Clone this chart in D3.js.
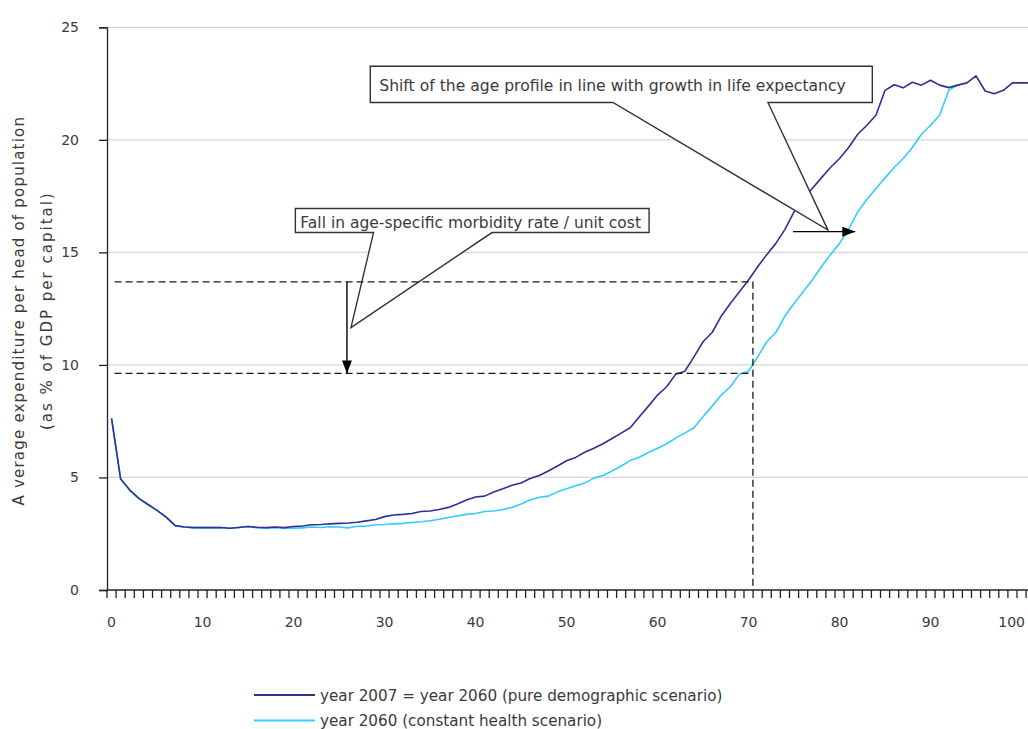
<!DOCTYPE html>
<html>
<head>
<meta charset="utf-8">
<script src="https://cdn.jsdelivr.net/npm/d3@7"></script>
<style>
  body { margin: 0; background: #fff; }
  svg { display: block; }
  text { font-family: "DejaVu Sans", "Liberation Sans", sans-serif; fill: #3a3a3a; }
</style>
</head>
<body>
<svg id="chart" width="1028" height="729"></svg>
<script>
// Age groups 0..101 on the category axis
const ages = d3.range(0, 102);

// Expenditure per head (% of GDP per capita), year 2007 = year 2060 profile
const pureDemographic = [
  7.62, 4.93, 4.44, 4.07, 3.80, 3.54, 3.24, 2.86, 2.80, 2.77,
  2.77, 2.77, 2.78, 2.74, 2.78, 2.82, 2.79, 2.77, 2.80, 2.77,
  2.82, 2.84, 2.90, 2.91, 2.94, 2.96, 2.98, 3.01, 3.07, 3.13,
  3.26, 3.33, 3.36, 3.40, 3.49, 3.51, 3.58, 3.67, 3.82, 4.00,
  4.13, 4.17, 4.35, 4.50, 4.65, 4.75, 4.95, 5.09, 5.29, 5.51,
  5.74, 5.89, 6.12, 6.30, 6.50, 6.73, 6.97, 7.21, 7.70, 8.17,
  8.66, 9.03, 9.59, 9.72, 10.36, 11.03, 11.44, 12.17, 12.73, 13.25,
  13.77, 14.36, 14.90, 15.40, 16.02, 16.80, 17.35, 17.84, 18.31, 18.77,
  19.17, 19.66, 20.25, 20.65, 21.09, 22.20, 22.45, 22.31, 22.56, 22.43,
  22.65, 22.43, 22.32, 22.43, 22.53, 22.84, 22.17, 22.05, 22.20, 22.53,
  22.53, 22.53
];

// Year 2060 profile under the constant health scenario (ages 0..93)
const constantHealth = [
  7.62, 4.93, 4.44, 4.07, 3.80, 3.54, 3.24, 2.86, 2.80, 2.77,
  2.77, 2.77, 2.78, 2.74, 2.78, 2.82, 2.76, 2.75, 2.77, 2.74,
  2.75, 2.76, 2.80, 2.78, 2.81, 2.80, 2.76, 2.83, 2.84, 2.90,
  2.91, 2.94, 2.96, 3.00, 3.03, 3.08, 3.14, 3.22, 3.29, 3.36,
  3.40, 3.49, 3.51, 3.58, 3.67, 3.82, 4.00, 4.12, 4.17, 4.36,
  4.50, 4.63, 4.75, 4.97, 5.09, 5.29, 5.51, 5.75, 5.90, 6.11,
  6.30, 6.50, 6.75, 6.97, 7.21, 7.70, 8.17, 8.66, 9.03, 9.59,
  9.72, 10.36, 11.03, 11.44, 12.17, 12.73, 13.25, 13.77, 14.36, 14.90,
  15.40, 16.02, 16.80, 17.35, 17.84, 18.31, 18.77, 19.17, 19.66, 20.25,
  20.65, 21.09, 22.20, 22.45
];

const yTicks = [0, 5, 10, 15, 20, 25];
const xTickLabels = [0, 10, 20, 30, 40, 50, 60, 70, 80, 90, 100];
const seriesNames = [
  "year 2007 = year 2060 (pure demographic scenario)",
  "year 2060 (constant health scenario)"
];
const yTitleLines = [
  "A verage expenditure per head of population",
  "(as % of GDP per capital)"
];
const calloutTexts = [
  "Fall in age-specific morbidity rate / unit cost",
  "Shift of the age profile in line with growth in life expectancy"
];

// ---- layout ----
const svg = d3.select("#chart");
const W = 1028, H = 729;
const plot = { left: 107, top: 27.3, bottom: 590, step: 9.1 };

const x = d3.scaleBand()
  .domain(ages)
  .range([plot.left, plot.left + plot.step * ages.length])
  .paddingInner(0).paddingOuter(0);
const xc = a => x(a) + x.bandwidth() / 2;
// continuous age position (for annotation shapes placed between categories)
const xa = d3.scaleLinear().domain([0, 1]).range([xc(0), xc(1)]);

const y = d3.scaleLinear().domain([0, 25]).range([plot.bottom, plot.top]);

const colors = ["#2E3192", "#33CCFF"];

// gridlines
svg.append("g")
  .selectAll("line")
  .data(yTicks.filter(v => v > 0))
  .join("line")
  .attr("x1", plot.left).attr("x2", W)
  .attr("y1", d => y(d)).attr("y2", d => y(d))
  .attr("stroke", "#d6d6d6").attr("stroke-width", 1.3);

// y axis
const yAxis = svg.append("g")
  .attr("transform", `translate(${plot.left},0)`)
  .call(d3.axisLeft(y).tickValues(yTicks).tickSize(8).tickPadding(20).tickFormat(d3.format("d")));
yAxis.select(".domain").attr("stroke", "#222").attr("stroke-width", 1.3);
yAxis.selectAll(".tick line").attr("stroke", "#222").attr("stroke-width", 1.3);
yAxis.selectAll(".tick text").style("font-size", "14px").style("font-family", "DejaVu Sans").attr("fill", "#3a3a3a");

// x axis: labels centred on categories, ticks at category boundaries
const xAxis = svg.append("g")
  .attr("transform", `translate(0,${plot.bottom})`)
  .call(d3.axisBottom(x).tickValues(xTickLabels).tickSize(0).tickPadding(27));
xAxis.select(".domain").remove();
xAxis.selectAll(".tick text").style("font-size", "14px").style("font-family", "DejaVu Sans").attr("fill", "#3a3a3a");
// keep the last label inside the drawing
xAxis.selectAll(".tick text").filter(d => d === 100)
  .attr("text-anchor", "end").attr("x", W - 3 - (xc(100)));

svg.append("line")
  .attr("x1", plot.left).attr("x2", W)
  .attr("y1", plot.bottom).attr("y2", plot.bottom)
  .attr("stroke", "#222").attr("stroke-width", 1.3);
svg.append("g")
  .selectAll("line")
  .data(ages)
  .join("line")
  .attr("x1", d => x(d)).attr("x2", d => x(d))
  .attr("y1", plot.bottom).attr("y2", plot.bottom + 8)
  .attr("stroke", "#222").attr("stroke-width", 1.3);

// y axis title (two lines)
const yTitle = svg.append("g");
yTitleLines.forEach((t, i) => {
  yTitle.append("text")
    .attr("transform", `translate(${i === 0 ? 24 : 52},${(plot.top + plot.bottom) / 2 + 2}) rotate(-90)`)
    .attr("text-anchor", "middle")
    .style("font-size", "15px")
    .style("letter-spacing", i === 0 ? "1.2px" : "2px")
    .text(t);
});

// series lines
const line = d3.line().x((d, i) => xc(ages[i])).y(d => y(d));
svg.append("path").datum(constantHealth)
  .attr("d", line).attr("fill", "none")
  .attr("stroke", colors[1]).attr("stroke-width", 1.6).attr("stroke-linejoin", "round");
svg.append("path").datum(pureDemographic)
  .attr("d", line).attr("fill", "none")
  .attr("stroke", colors[0]).attr("stroke-width", 1.6).attr("stroke-linejoin", "round");

// ---- annotations ----
const ink = "#1a1a1a";
const defs = svg.append("defs");
defs.append("marker").attr("id", "head")
  .attr("viewBox", "0 0 13 10").attr("refX", 13).attr("refY", 5)
  .attr("markerWidth", 13).attr("markerHeight", 10)
  .attr("markerUnits", "userSpaceOnUse").attr("orient", "auto")
  .append("path").attr("d", "M0,0 L13,5 L0,10 Z").attr("fill", "#000");

// callout boxes with wedge pointers
function callout(b, text, fontSize) {
  const x0 = xa(b.a0), x1 = xa(b.a1), y0 = y(b.v0), y1 = y(b.v1);
  const p = d3.path();
  p.moveTo(x0, y0); p.lineTo(x1, y0); p.lineTo(x1, y1);
  p.lineTo(xa(b.baseR), y1); p.lineTo(xa(b.tip[0]), y(b.tip[1]));
  p.lineTo(xa(b.baseL), y1); p.lineTo(x0, y1); p.closePath();
  svg.append("path").attr("d", p.toString())
    .attr("fill", "#fff").attr("stroke", "#333").attr("stroke-width", 1.4);
  svg.append("text")
    .attr("x", x0 + b.pad).attr("y", y1 - b.dy)
    .style("font-size", fontSize + "px")
    .text(text);
}

callout({ a0: 20.2, a1: 59.07, v0: 16.95, v1: 15.88, baseL: 28.79, baseR: 41.8, tip: [26.31, 11.66], pad: 5, dy: 5 },
  calloutTexts[0], 15.5);
callout({ a0: 28.43, a1: 83.6, v0: 23.27, v1: 21.66, baseL: 55.1, baseR: 72.13, tip: [78.73, 15.99], pad: 9, dy: 11 },
  calloutTexts[1], 15.6);

// dashed reference levels and the age where they are read
const refAge = 70.48, fromAge = 0.33, highLevel = 13.69, lowLevel = 9.62;
const dash = "7,4";
[highLevel, lowLevel].forEach(v => {
  svg.append("line")
    .attr("x1", xa(fromAge)).attr("x2", xa(refAge))
    .attr("y1", y(v)).attr("y2", y(v))
    .attr("stroke", ink).attr("stroke-width", 1.3).attr("stroke-dasharray", dash);
});
svg.append("line")
  .attr("x1", xa(refAge)).attr("x2", xa(refAge))
  .attr("y1", y(highLevel)).attr("y2", y(0))
  .attr("stroke", ink).attr("stroke-width", 1.3).attr("stroke-dasharray", dash);

// downward arrow: fall in morbidity
svg.append("line")
  .attr("x1", xa(25.87)).attr("x2", xa(25.87))
  .attr("y1", y(highLevel)).attr("y2", y(lowLevel))
  .attr("stroke", "#000").attr("stroke-width", 1.4)
  .attr("marker-end", "url(#head)");

// rightward arrow: shift of the age profile
svg.append("line")
  .attr("x1", xa(74.88)).attr("x2", xa(81.73))
  .attr("y1", y(15.92)).attr("y2", y(15.92))
  .attr("stroke", "#000").attr("stroke-width", 1.4)
  .attr("marker-end", "url(#head)");

// legend
const legend = svg.append("g").attr("transform", "translate(254,695)");
seriesNames.forEach((name, i) => {
  const g = legend.append("g").attr("transform", `translate(0,${i * 25.5})`);
  g.append("line").attr("x1", 0).attr("x2", 61).attr("y1", 0).attr("y2", 0)
    .attr("stroke", colors[i]).attr("stroke-width", 2.2);
  g.append("text").attr("x", 66).attr("y", 5.5).style("font-size", "15.2px").text(name);
});
</script>
</body>
</html>
